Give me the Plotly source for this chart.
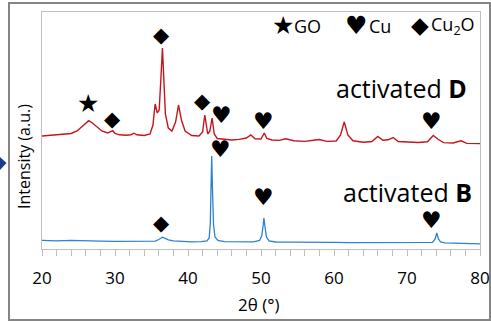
import plotly.graph_objects as go

# 2-theta (deg) and intensity (a.u.)
theta_B = [20, 22, 24, 26, 28, 30, 32, 34, 35.5, 36.0, 36.3, 36.5, 36.8, 37.3, 38.0, 39.0, 40.5, 41.8,
           42.6, 42.9, 43.05, 43.15, 43.25, 43.35, 43.5, 43.7, 44.1, 45, 47, 49, 49.8, 50.1, 50.3, 50.4,
           50.55, 50.75, 51.1, 52, 54, 56, 58, 60, 62, 64, 66, 68, 70, 72, 73.5, 73.85, 74.07, 74.3,
           74.6, 75.2, 77, 78.5, 80]
int_B = [8.6, 8.2, 8.7, 8.0, 7.9, 7.6, 7.7, 7.3, 7.8, 9.5, 11.0, 11.8, 10.8, 9.2, 8.2, 7.6, 7.2, 7.3,
         8.0, 11, 25, 60, 93, 60, 24, 12, 8.5, 7.3, 7.0, 7.1, 8.5, 13, 24, 31,
         22, 12, 8.2, 7.0, 6.8, 6.9, 6.5, 6.6, 6.3, 6.4, 6.2, 6.3, 6.0, 6.1, 6.6, 10, 16, 10,
         7.2, 6.2, 5.6, 5.4, 5.2]

theta_D = [20, 21, 22, 23, 24, 24.8, 25.5, 26.0, 26.4, 26.9, 27.5, 28.2, 29.0, 29.45, 29.7, 30.0, 30.6,
           31.5, 32.2, 32.6, 33.0, 34.0, 34.8, 35.2, 35.5, 35.8, 36.05, 36.3, 36.5, 36.7, 36.9, 37.3,
           37.8, 38.3, 38.7, 39.1, 39.6, 40.5, 41.5, 42.0, 42.3, 42.7, 43.0, 43.3, 43.6, 44.0, 45, 46,
           47, 48.0, 48.6, 49.2, 50.0, 50.45, 50.8, 51.5, 52.5, 53.4, 54.5, 56, 57.2, 58.0, 59, 60.3,
           60.9, 61.4, 61.9, 62.6, 64, 65.2, 66.0, 66.7, 67.4, 68.1, 68.8, 70, 71.5, 72.8, 73.6, 74.2,
           75.0, 76.3, 77.4, 78.2, 79, 80]
int_D = [113, 113.5, 113.8, 114.5, 115.5, 118, 122.5, 126.5, 128.3, 126, 122, 118, 116, 117, 118.3, 115.5, 114.2,
         113.8, 114.3, 115.8, 114.2, 113.5, 115, 124, 145, 136, 139, 172, 201, 168, 135, 121,
         118, 127, 144, 129, 118, 113.5, 113, 117, 134, 115, 118, 131, 115, 110.5, 109.5, 109,
         109.6, 111, 114, 110.2, 110, 116, 110.5, 109, 108.6, 110.3, 108.2, 107.6, 108.8, 109.5, 107.6, 108,
         114, 127, 114, 108.2, 106.8, 107.5, 112.5, 108.8, 109.2, 111.5, 107.5, 106.8, 106.5, 107.2, 113.5, 110,
         106.4, 106, 108.2, 105.6, 105.8, 105.4]

# phase markers: (symbol, 2-theta, intensity level)
mark_sym = ["★", "◆", "◆", "◆", "♥", "♥", "♥", "♥", "♥", "◆", "♥"]
mark_x = [26.3, 29.7, 36.4, 42.0, 44.6, 50.4, 73.3, 44.5, 50.4, 36.4, 73.3]
mark_y = [146, 130, 214, 148, 134, 128, 128, 100, 52, 26, 29]
mark_size = {"★": 25, "◆": 21, "♥": 23}

key_sym = ["★", "♥", "◆"]
key_lab = ["GO", "Cu", "Cu<sub>2</sub>O"]

label_D = "activated <b>D</b>"
label_B = "activated <b>B</b>"

FONT = "Open Sans"
W, H = 491, 323
TOP, BOT = 12, 249       # plot area rows (px)
LEFT, RIGHT = 42, 480    # plot area columns (px)

px = lambda v: (v - LEFT) / (RIGHT - LEFT)
py = lambda v: (BOT - v) / (BOT - TOP)

fig = go.Figure()
fig.add_trace(go.Scatter(x=theta_D, y=int_D, mode="lines",
                         line=dict(color="#C8141C", width=1.4), hoverinfo="skip"))
fig.add_trace(go.Scatter(x=theta_B, y=int_B, mode="lines",
                         line=dict(color="#2A82D2", width=1.3), hoverinfo="skip"))

for s, x, y in zip(mark_sym, mark_x, mark_y):
    fig.add_annotation(x=x, y=y, text=s, showarrow=False,
                       font=dict(family="DejaVu Sans", size=mark_size[s], color="black"))

# key at top right
key_sym_x = [283, 356, 420]
key_lab_x = [292, 367, 429]
key_sym_size = [25, 25, 23]
for sym, sx, lx, sz, lab in zip(key_sym, key_sym_x, key_lab_x, key_sym_size, key_lab):
    fig.add_annotation(x=px(sx), y=py(25), xref="paper", yref="paper", xanchor="center",
                       yanchor="middle", text=sym, showarrow=False,
                       font=dict(family="DejaVu Sans", size=sz, color="black"))
    fig.add_annotation(x=px(lx), y=py(26), xref="paper", yref="paper", xanchor="left",
                       yanchor="middle", text=lab, showarrow=False,
                       font=dict(family=FONT, size=18, color="black"))

fig.add_annotation(x=px(469), y=py(88), xref="paper", yref="paper", xanchor="right", yanchor="middle",
                   text=label_D, showarrow=False, font=dict(family=FONT, size=25, color="black"))
fig.add_annotation(x=px(474), y=py(192), xref="paper", yref="paper", xanchor="right", yanchor="middle",
                   text=label_B, showarrow=False, font=dict(family=FONT, size=25, color="black"))
# y axis title
fig.add_annotation(x=px(24), y=py(157), xref="paper", yref="paper",
                   text="Intensity (a.u.)", textangle=-90, showarrow=False,
                   xanchor="center", yanchor="middle",
                   font=dict(family=FONT, size=16, color="black"))
# x axis title
fig.add_annotation(x=px(259), y=py(304), xref="paper", yref="paper",
                   text="2θ (°)", showarrow=False, xanchor="center", yanchor="middle",
                   font=dict(family=FONT, size=17, color="black"))

# outer frame
fig.add_shape(type="rect", xref="paper", yref="paper",
              x0=px(9), x1=px(490), y0=py(320), y1=py(3),
              line=dict(color="#858585", width=2), layer="below")
# small arrow head at left
fig.add_shape(type="path", xref="paper", yref="paper",
              path=f"M {px(0)} {py(157)} L {px(6.5)} {py(163)} L {px(0)} {py(170)} Z",
              fillcolor="#1B3C8C", line=dict(width=0))

fig.update_layout(
    width=W, height=H,
    margin=dict(l=LEFT, r=W - RIGHT, t=TOP, b=H - BOT, autoexpand=False),
    paper_bgcolor="white", plot_bgcolor="white",
    showlegend=False,
    xaxis=dict(range=[20, 80], dtick=10, tick0=20, showgrid=False, zeroline=False,
               automargin=False,
               showline=True, linecolor="#BFBFBF", linewidth=1, mirror=True,
               ticks="outside", ticklen=6, tickcolor="#BFBFBF", ticklabelstandoff=8,
               tickfont=dict(family=FONT, size=17, color="black"),
               minor=dict(dtick=2, ticks="outside", ticklen=6, tickcolor="#BFBFBF")),
    yaxis=dict(range=[0, 237], showgrid=False, zeroline=False, showticklabels=False,
               automargin=False,
               showline=True, linecolor="#BFBFBF", linewidth=1, mirror=True, ticks=""),
)

fig.write_html("out.html")
